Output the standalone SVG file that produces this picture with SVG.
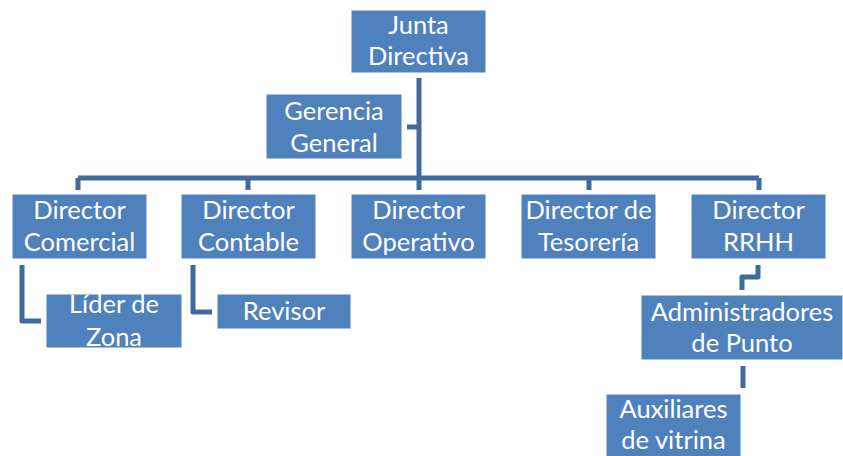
<svg xmlns="http://www.w3.org/2000/svg" width="843" height="456" viewBox="0 0 843 456">
<style>
.box{fill:#4F81BD;stroke:#ffffff;stroke-width:1}
.t{font-family:Lato,"Liberation Sans",sans-serif;font-size:25.5px;fill:#ffffff;text-anchor:middle}
.c{fill:none;stroke:#3E6A9C;stroke-width:5;stroke-linejoin:round}
</style>
<rect width="843" height="456" fill="#ffffff"/>
<g id="connectors">
<path class="c" d="M419 78 V190"/>
<path class="c" d="M407 127 H419"/>
<path class="c" d="M78 178 H759"/>
<path class="c" d="M78 178 V190 M248 178 V190 M589 178 V190 M759 178 V190"/>
<path class="c" d="M22 265 V321 H41"/>
<path class="c" d="M193 265 V312 H212"/>
<path class="c" d="M758 265 V277 H742 V290"/>
<path class="c" d="M743 366 V388"/>
</g>
<g id="junta"><rect class="box" x="351" y="10" width="135" height="63"/><text class="t" x="418.5" y="34">Junta</text><text class="t" x="418.5" y="65">Directiva</text></g>
<g id="gerencia"><rect class="box" x="266" y="94" width="136" height="65"/><text class="t" x="334" y="120">Gerencia</text><text class="t" x="334" y="152">General</text></g>
<g id="comercial"><rect class="box" x="12" y="194" width="135" height="65"/><text class="t" x="79.5" y="219">Director</text><text class="t" x="79.5" y="251">Comercial</text></g>
<g id="contable"><rect class="box" x="181" y="194" width="135" height="65"/><text class="t" x="248.5" y="219">Director</text><text class="t" x="248.5" y="251">Contable</text></g>
<g id="operativo"><rect class="box" x="351" y="194" width="135" height="65"/><text class="t" x="418.5" y="219">Director</text><text class="t" x="418.5" y="251">Operativo</text></g>
<g id="tesoreria"><rect class="box" x="521" y="194" width="135" height="65"/><text class="t" x="588.5" y="219">Director de</text><text class="t" x="588.5" y="251">Tesorería</text></g>
<g id="rrhh"><rect class="box" x="691" y="194" width="135" height="65"/><text class="t" x="758.5" y="219">Director</text><text class="t" x="758.5" y="251">RRHH</text></g>
<g id="lider"><rect class="box" x="46" y="294" width="136" height="54"/><text class="t" x="114" y="313">Líder de</text><text class="t" x="114" y="346">Zona</text></g>
<g id="revisor"><rect class="box" x="217" y="294" width="134" height="35"/><text class="t" x="284" y="320">Revisor</text></g>
<g id="administradores"><rect class="box" x="641" y="295" width="202" height="65"/><text class="t" x="742" y="321">Administradores</text><text class="t" x="742" y="352">de Punto</text></g>
<g id="auxiliares"><rect class="box" x="606" y="394" width="135" height="63"/><text class="t" x="673.5" y="418">Auxiliares</text><text class="t" x="673.5" y="449">de vitrina</text></g>
</svg>
